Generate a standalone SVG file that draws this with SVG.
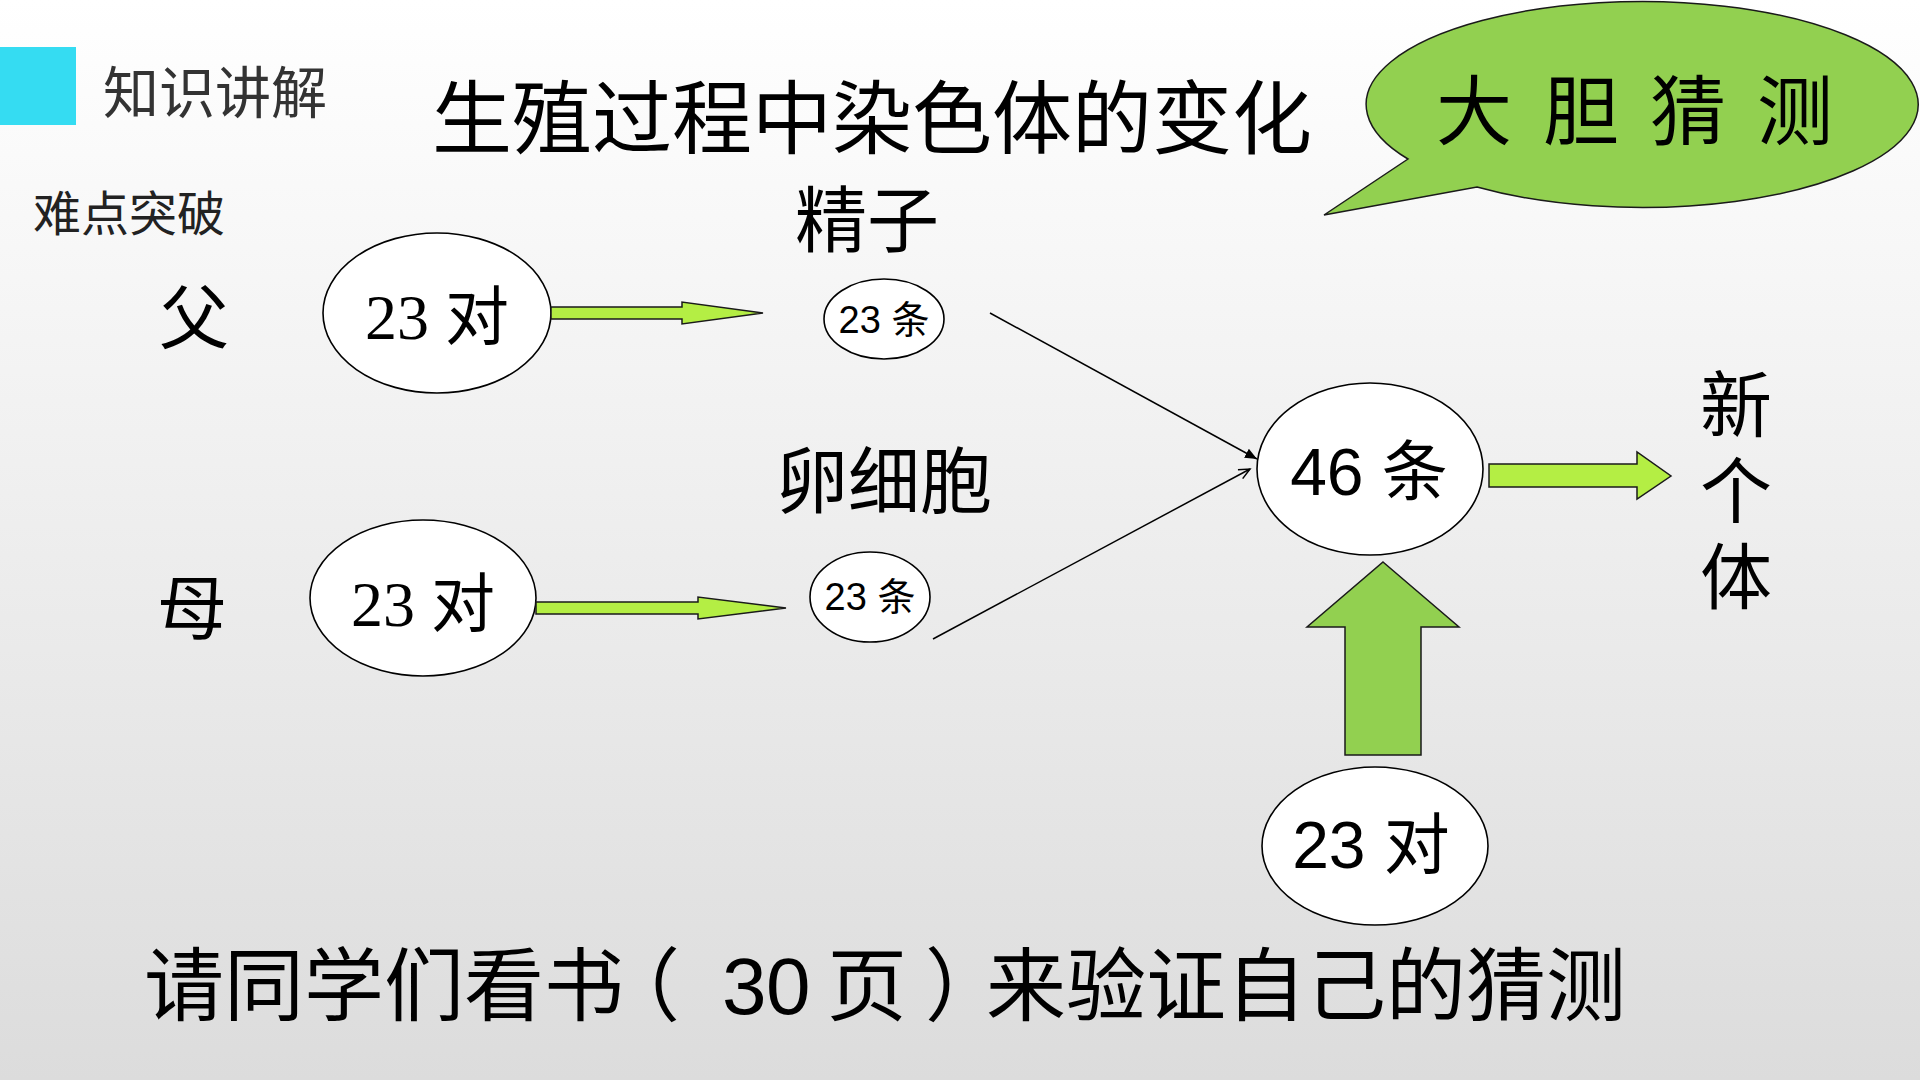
<svg xmlns="http://www.w3.org/2000/svg" width="1920" height="1080" viewBox="0 0 1920 1080">
<defs>
<linearGradient id="bg" x1="0" y1="0" x2="0" y2="1">
<stop offset="0" stop-color="#ffffff"/>
<stop offset="1" stop-color="#dcdcdc"/>
</linearGradient>
<marker id="arrFill" markerUnits="userSpaceOnUse" markerWidth="14" markerHeight="12" refX="12" refY="6" orient="auto">
<path d="M0,1 L12,6 L0,11 Z" fill="#000"/>
</marker>
<marker id="arrOpen" markerUnits="userSpaceOnUse" markerWidth="14" markerHeight="12" refX="12" refY="6" orient="auto">
<path d="M1,1 L12,6 L1,11" fill="none" stroke="#000" stroke-width="1.5"/>
</marker>
</defs>
<style>
.cjk{font-family:"Noto Sans CJK SC","Liberation Sans",sans-serif;fill:#000}
.sans{font-family:"Liberation Sans","Noto Sans CJK SC",sans-serif;fill:#000}
.serif{font-family:"Liberation Serif","Noto Sans CJK SC",serif;fill:#000}
.node{fill:#fff;stroke:#000;stroke-width:1.6}
.lime{fill:#b4ee44;stroke:#1a1a1a;stroke-width:1.5}
.green{fill:#92d050;stroke:#1a1a1a;stroke-width:1.5}
.thin{stroke:#000;stroke-width:1.5;fill:none}
</style>
<rect x="0" y="0" width="1920" height="1080" fill="url(#bg)"/>

<g id="header">
<rect x="0" y="47" width="76" height="78" fill="#35dcf2"/>
<text class="cjk" x="103" y="113" font-size="56" style="fill:#333">知识讲解</text>
<text class="cjk" x="33" y="231" font-size="48" style="fill:#222">难点突破</text>
<text class="cjk" x="432" y="147" font-size="80">生殖过程中染色体的变化</text>
</g>

<g id="bubble">
<path class="green" d="M1408,159 L1324,215 L1477,187 A276,103 0 1 0 1408,159 Z"/>
<text class="cjk" x="1436" y="139" font-size="76" letter-spacing="31">大胆猜测</text>
</g>

<g id="labels">
<text class="cjk" x="194" y="344" font-size="70" text-anchor="middle">父</text>
<text class="cjk" x="192" y="634" font-size="70" text-anchor="middle">母</text>
<text class="cjk" x="867" y="246" font-size="72" text-anchor="middle">精子</text>
<text class="cjk" x="884" y="507" font-size="72" text-anchor="middle">卵细胞</text>
</g>

<g id="father">
<ellipse class="node" cx="437" cy="313" rx="114" ry="80"/>
<text class="serif" x="437" y="339" font-size="64" text-anchor="middle">23 对</text>
</g>

<g id="mother">
<ellipse class="node" cx="423" cy="598" rx="113" ry="78"/>
<text class="serif" x="423" y="626" font-size="64" text-anchor="middle">23 对</text>
</g>

<g id="sperm">
<ellipse class="node" cx="884" cy="319" rx="60" ry="40"/>
<text class="sans" x="884" y="333" font-size="38" text-anchor="middle">23 条</text>
</g>

<g id="egg">
<ellipse class="node" cx="870" cy="597" rx="60" ry="45"/>
<text class="sans" x="870" y="610" font-size="38" text-anchor="middle">23 条</text>
</g>

<g id="zygote">
<ellipse class="node" cx="1370" cy="469" rx="113" ry="86"/>
<text class="sans" x="1369" y="495" font-size="66" text-anchor="middle">46 条</text>
</g>

<g id="pairs">
<ellipse class="node" cx="1375" cy="846" rx="113" ry="79"/>
<text class="sans" x="1371" y="868" font-size="66" text-anchor="middle">23 对</text>
</g>

<g id="newbody">
<text class="cjk" x="1736 1736 1736" y="431 517 603" font-size="72" text-anchor="middle">新个体</text>
</g>

<g id="connectors">
<path class="lime" d="M551,307 L682,307 L682,302 L763,313 L682,324 L682,319 L551,319 Z"/>
<path class="lime" d="M536,602 L698,602 L698,597 L786,608 L698,619 L698,614 L536,614 Z"/>
<path class="lime" d="M1489,464 L1637,464 L1637,452 L1671,476 L1637,499 L1637,487 L1489,487 Z"/>
<path class="green" d="M1383,562 L1459,627 L1421,627 L1421,755 L1345,755 L1345,627 L1307,627 Z"/>
<line class="thin" x1="990" y1="313" x2="1257" y2="459" marker-end="url(#arrFill)"/>
<line class="thin" x1="933" y1="639" x2="1250" y2="469" marker-end="url(#arrOpen)"/>
</g>

<g id="footer">
<text class="sans" y="1014" font-size="80" x="144 224 304 384 464 544 600 680 722 766 811 827 907 925 986 1066 1146 1226 1306 1386 1466 1546">请同学们看书（ 30 页 ）来验证自己的猜测</text>
</g>
</svg>
